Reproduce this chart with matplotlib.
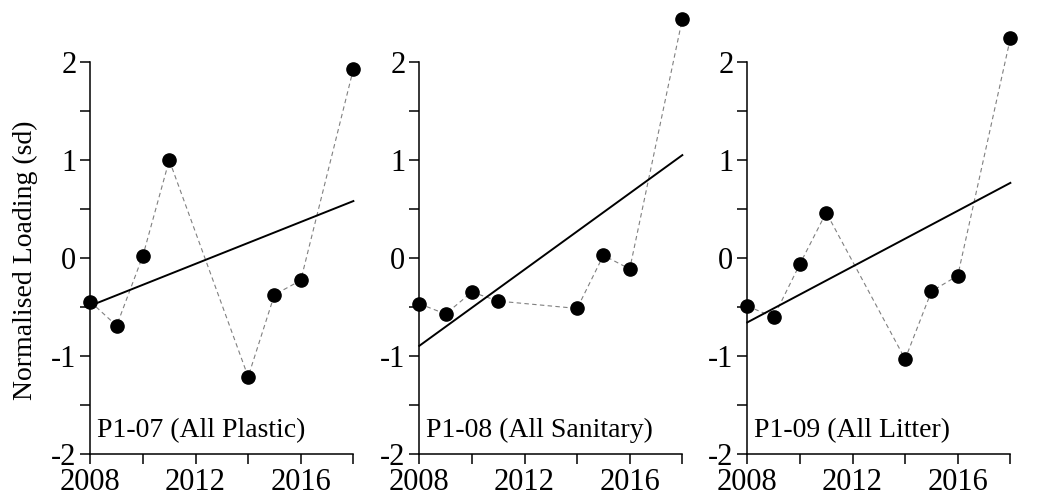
import matplotlib.pyplot as plt
import numpy as np

plt.rcParams['font.family'] = ['Liberation Serif', 'DejaVu Serif']
plt.rcParams['axes.unicode_minus'] = False

years = [2008, 2009, 2010, 2011, 2014, 2015, 2016, 2018]
titles = ['P1-07 (All Plastic)', 'P1-08 (All Sanitary)', 'P1-09 (All Litter)']

plastic = [-0.445, -0.69, 0.024, 0.997, -1.21, -0.374, -0.228, 1.925]
sanitary = [-0.466, -0.571, -0.347, -0.439, -0.514, 0.027, -0.112, 2.435]
litter = [-0.49, -0.602, -0.061, 0.463, -1.03, -0.34, -0.18, 2.238]

# trend line end points (2008, 2018)
trend_x = [2008, 2018]
trend_plastic = [-0.486, 0.58]
trend_sanitary = [-0.895, 1.048]
trend_litter = [-0.656, 0.765]

series = [plastic, sanitary, litter]
trends = [trend_plastic, trend_sanitary, trend_litter]
lefts = [0.0866, 0.4020, 0.7165]

W, H = 1043, 497
fig = plt.figure(figsize=(W / 100, H / 100), dpi=100)

for left, vals, tr, title in zip(lefts, series, trends, titles):
    ax = fig.add_axes([left, 0.0859, 0.2522, 0.790])
    ax.set_xlim(2008, 2018)
    ax.set_ylim(-2, 2)
    ax.plot(years, vals, color='#808080', lw=0.8, ls=(0, (4, 3)), clip_on=False, zorder=2)
    ax.plot(trend_x, tr, color='k', lw=1.4, clip_on=False, zorder=3)
    ax.plot(years, vals, 'o', color='k', ms=9.5, clip_on=False, zorder=4)

    for s in ['top', 'right']:
        ax.spines[s].set_visible(False)
    for s in ['left', 'bottom']:
        ax.spines[s].set_linewidth(1.1)

    ax.set_xticks([2008, 2012, 2016])
    ax.set_xticks([2010, 2014, 2018], minor=True)
    ax.set_yticks([-2, -1, 0, 1, 2])
    ax.set_yticks([-1.5, -0.5, 0.5, 1.5], minor=True)
    ax.tick_params(which='both', direction='out', length=7.5, width=1.1,
                   labelsize=22, pad=2.5)
    ax.set_facecolor('none')

    ax.text(0.024, 0.028, title, transform=ax.transAxes, fontsize=20,
            ha='left', va='bottom')

fig.text(25 / W, 1 - 260 / H, 'Normalised Loading (sd)', rotation=90,
         fontsize=20, ha='center', va='center')

fig.savefig('out.png', dpi=100)
